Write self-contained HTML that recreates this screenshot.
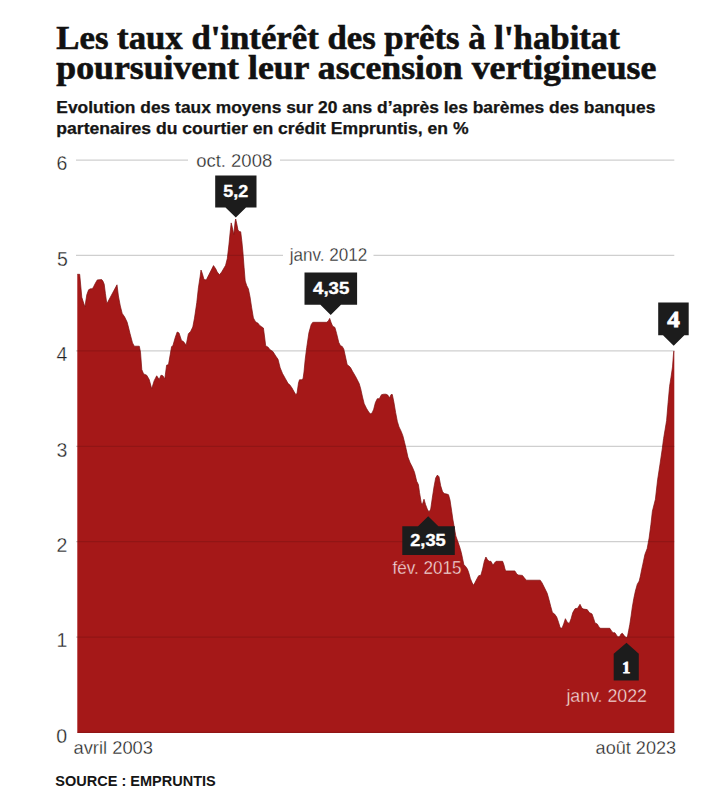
<!DOCTYPE html>
<html><head><meta charset="utf-8">
<style>
html,body{margin:0;padding:0;background:#fff;}
body{width:726px;height:805px;position:relative;overflow:hidden;font-family:"Liberation Sans",sans-serif;}
svg{position:absolute;left:0;top:0;}
.ti{font-family:"Liberation Serif",serif;font-weight:bold;font-size:33px;fill:#111;stroke:#111;stroke-width:0.6px;}
.su{font-weight:bold;font-size:16.2px;fill:#151515;stroke:#151515;stroke-width:0.25px;}
.so{font-weight:bold;font-size:14.6px;fill:#151515;}
.ax{font-size:19.5px;fill:#222;stroke:#fff;stroke-width:0.3px;}
.lb{font-size:18px;fill:#222;stroke:#fff;stroke-width:0.3px;}
.lw{font-size:18px;fill:#fbe6e6;stroke:#a51818;stroke-width:0.4px;}
.bx{font-weight:bold;font-size:17px;fill:#fff;stroke:#fff;stroke-width:0.35px;}
.bs{font-family:"Liberation Serif",serif;font-weight:bold;font-size:21px;fill:#fff;}
</style></head><body>
<svg width="726" height="805" viewBox="0 0 726 805">
<g stroke="#cfcfcf" stroke-width="1.3">
<line x1="76" y1="160.2" x2="188" y2="160.2"/><line x1="280" y1="160.2" x2="674.3" y2="160.2"/>
<line x1="76" y1="255.4" x2="283" y2="255.4"/><line x1="373.5" y1="255.4" x2="674.3" y2="255.4"/>
<line x1="76" y1="350.8" x2="674.3" y2="350.8"/>
<line x1="76" y1="446.4" x2="674.3" y2="446.4"/>
<line x1="76" y1="541.6" x2="674.3" y2="541.6"/>
<line x1="76" y1="637.1" x2="674.3" y2="637.1"/>
</g>
<defs><clipPath id="cp"><path d="M77.3 733.0 L77.3 274.3 L79.7 274.3 L81.8 297.3 L84.9 307.0 L86.8 294.8 L88.6 289.8 L90.5 288.8 L92.4 288.8 L93.6 286.7 L95.5 283.0 L97.3 279.9 L101.7 279.6 L102.9 281.1 L104.2 284.2 L105.4 293.5 L106.6 302.2 L107.3 302.9 L117.0 284.8 L118.4 296.0 L120.3 306.0 L122.2 313.4 L124.7 317.1 L127.1 322.1 L128.4 327.0 L130.0 333.5 L132.5 342.9 L134.3 346.2 L139.3 346.2 L140.5 352.2 L141.8 369.6 L143.6 373.9 L146.7 375.2 L149.2 379.5 L151.7 388.8 L154.2 380.7 L156.7 375.8 L159.2 379.5 L161.0 375.2 L162.9 375.8 L164.8 378.9 L166.6 365.2 L168.5 364.6 L171.6 346.6 L172.8 346.0 L175.3 337.3 L177.2 332.0 L179.0 332.9 L181.5 340.4 L183.4 341.6 L184.5 342.7 L186.1 345.5 L188.4 333.7 L190.6 331.5 L192.8 327.0 L194.5 318.1 L196.8 302.5 L198.4 287.9 L200.1 276.8 L201.0 270.0 L202.3 273.4 L204.0 279.6 L206.3 279.9 L209.0 274.5 L211.3 270.0 L213.5 265.6 L215.8 268.9 L217.2 272.0 L219.5 274.8 L221.7 272.0 L225.6 265.3 L227.3 258.6 L229.0 244.1 L230.1 232.9 L231.2 222.9 L232.3 227.3 L233.8 234.6 L235.1 221.8 L235.7 219.0 L236.8 224.0 L237.9 229.6 L239.0 231.6 L240.7 231.8 L241.8 240.8 L242.9 251.9 L244.1 267.6 L245.2 281.0 L246.7 285.6 L248.4 288.9 L250.0 296.8 L251.7 307.9 L253.4 318.0 L255.6 321.9 L257.8 323.0 L259.5 325.3 L261.8 326.9 L263.4 328.0 L264.6 337.0 L265.7 345.9 L267.9 347.0 L270.1 349.8 L272.9 351.5 L275.7 356.0 L278.0 359.3 L280.2 367.9 L282.5 373.5 L285.3 378.5 L288.1 383.6 L289.7 384.7 L292.0 388.0 L294.8 393.1 L295.9 394.5 L297.0 393.5 L298.5 383.0 L299.5 379.8 L301.4 379.8 L303.0 379.0 L304.0 372.0 L305.2 359.6 L306.7 347.7 L308.9 332.8 L311.2 324.6 L312.7 322.4 L313.8 322.3 L326.5 322.3 L328.2 321.2 L329.7 318.4 L331.0 322.3 L332.7 326.3 L334.9 327.4 L336.6 333.5 L338.8 342.5 L340.5 345.8 L342.2 346.4 L343.8 349.2 L345.5 357.0 L347.2 364.8 L348.9 365.9 L350.5 367.6 L352.5 371.3 L355.8 376.9 L359.2 383.6 L360.8 389.2 L362.5 397.0 L364.2 403.7 L366.4 408.2 L368.7 412.1 L370.3 413.7 L372.0 413.2 L373.7 409.3 L375.4 402.6 L377.3 398.7 L379.3 398.7 L381.5 394.7 L383.8 394.2 L386.0 394.2 L387.8 395.1 L389.5 397.9 L391.1 394.5 L392.3 394.5 L393.9 402.3 L395.6 412.4 L397.3 421.3 L399.0 426.9 L401.2 431.4 L402.9 435.9 L404.6 442.6 L406.2 449.3 L407.9 457.1 L410.1 462.7 L412.4 467.2 L414.5 472.3 L416.7 481.3 L418.4 484.6 L419.5 492.5 L421.2 502.5 L422.3 504.7 L424.0 499.2 L425.6 504.7 L427.3 509.2 L429.0 512.0 L430.7 509.2 L432.3 498.0 L434.0 486.9 L435.7 477.9 L437.4 475.1 L439.0 476.8 L440.7 485.8 L442.4 491.3 L444.1 493.6 L446.9 494.1 L448.5 494.7 L450.0 500.1 L451.7 511.3 L452.8 519.1 L455.8 535.9 L457.8 541.5 L459.7 547.0 L461.3 552.6 L462.5 558.2 L463.8 564.5 L465.7 566.6 L467.4 569.1 L468.7 572.6 L470.4 578.7 L472.2 583.0 L473.5 585.2 L475.2 582.2 L477.0 578.7 L478.7 575.7 L480.9 575.2 L482.6 569.1 L484.3 561.3 L485.9 557.0 L487.4 559.6 L489.1 561.3 L490.9 561.3 L493.0 565.2 L494.8 562.6 L496.1 561.3 L502.6 561.3 L503.9 564.8 L505.2 570.0 L506.5 570.9 L514.8 570.9 L516.5 573.5 L518.0 575.0 L522.4 575.4 L524.1 577.6 L526.3 580.2 L540.2 580.2 L542.0 582.8 L544.6 588.0 L547.2 593.3 L548.9 599.3 L550.7 606.3 L552.4 612.4 L554.6 614.1 L556.7 617.0 L558.5 622.2 L560.2 627.8 L562.0 628.3 L563.7 623.9 L565.4 618.7 L567.2 622.2 L569.3 623.5 L571.1 618.7 L572.8 612.6 L575.0 608.7 L577.6 608.3 L580.0 604.3 L582.0 608.3 L583.7 609.1 L587.2 609.6 L589.3 612.6 L592.0 613.9 L593.7 618.7 L595.0 623.0 L597.2 623.9 L599.3 627.4 L600.7 628.3 L609.8 628.3 L612.0 631.7 L613.1 632.7 L614.9 632.7 L617.4 636.4 L619.3 637.0 L621.1 633.9 L622.4 633.3 L624.3 635.8 L626.1 637.6 L627.4 637.0 L628.6 630.8 L629.8 624.6 L631.1 615.9 L632.3 607.2 L633.8 598.5 L635.4 591.1 L637.3 584.2 L639.2 581.1 L640.4 576.1 L641.6 569.9 L642.7 564.9 L644.9 554.5 L647.2 548.5 L649.1 538.1 L650.9 524.6 L652.4 511.2 L655.4 499.3 L657.6 479.9 L659.9 464.9 L662.1 450.0 L663.6 438.5 L665.1 429.6 L666.6 420.6 L668.1 402.7 L669.6 386.3 L671.0 377.3 L672.5 366.9 L673.7 351.2 L674.3 351.2 L674.3 733.0 Z"/></clipPath></defs>
<path d="M77.3 733.0 L77.3 274.3 L79.7 274.3 L81.8 297.3 L84.9 307.0 L86.8 294.8 L88.6 289.8 L90.5 288.8 L92.4 288.8 L93.6 286.7 L95.5 283.0 L97.3 279.9 L101.7 279.6 L102.9 281.1 L104.2 284.2 L105.4 293.5 L106.6 302.2 L107.3 302.9 L117.0 284.8 L118.4 296.0 L120.3 306.0 L122.2 313.4 L124.7 317.1 L127.1 322.1 L128.4 327.0 L130.0 333.5 L132.5 342.9 L134.3 346.2 L139.3 346.2 L140.5 352.2 L141.8 369.6 L143.6 373.9 L146.7 375.2 L149.2 379.5 L151.7 388.8 L154.2 380.7 L156.7 375.8 L159.2 379.5 L161.0 375.2 L162.9 375.8 L164.8 378.9 L166.6 365.2 L168.5 364.6 L171.6 346.6 L172.8 346.0 L175.3 337.3 L177.2 332.0 L179.0 332.9 L181.5 340.4 L183.4 341.6 L184.5 342.7 L186.1 345.5 L188.4 333.7 L190.6 331.5 L192.8 327.0 L194.5 318.1 L196.8 302.5 L198.4 287.9 L200.1 276.8 L201.0 270.0 L202.3 273.4 L204.0 279.6 L206.3 279.9 L209.0 274.5 L211.3 270.0 L213.5 265.6 L215.8 268.9 L217.2 272.0 L219.5 274.8 L221.7 272.0 L225.6 265.3 L227.3 258.6 L229.0 244.1 L230.1 232.9 L231.2 222.9 L232.3 227.3 L233.8 234.6 L235.1 221.8 L235.7 219.0 L236.8 224.0 L237.9 229.6 L239.0 231.6 L240.7 231.8 L241.8 240.8 L242.9 251.9 L244.1 267.6 L245.2 281.0 L246.7 285.6 L248.4 288.9 L250.0 296.8 L251.7 307.9 L253.4 318.0 L255.6 321.9 L257.8 323.0 L259.5 325.3 L261.8 326.9 L263.4 328.0 L264.6 337.0 L265.7 345.9 L267.9 347.0 L270.1 349.8 L272.9 351.5 L275.7 356.0 L278.0 359.3 L280.2 367.9 L282.5 373.5 L285.3 378.5 L288.1 383.6 L289.7 384.7 L292.0 388.0 L294.8 393.1 L295.9 394.5 L297.0 393.5 L298.5 383.0 L299.5 379.8 L301.4 379.8 L303.0 379.0 L304.0 372.0 L305.2 359.6 L306.7 347.7 L308.9 332.8 L311.2 324.6 L312.7 322.4 L313.8 322.3 L326.5 322.3 L328.2 321.2 L329.7 318.4 L331.0 322.3 L332.7 326.3 L334.9 327.4 L336.6 333.5 L338.8 342.5 L340.5 345.8 L342.2 346.4 L343.8 349.2 L345.5 357.0 L347.2 364.8 L348.9 365.9 L350.5 367.6 L352.5 371.3 L355.8 376.9 L359.2 383.6 L360.8 389.2 L362.5 397.0 L364.2 403.7 L366.4 408.2 L368.7 412.1 L370.3 413.7 L372.0 413.2 L373.7 409.3 L375.4 402.6 L377.3 398.7 L379.3 398.7 L381.5 394.7 L383.8 394.2 L386.0 394.2 L387.8 395.1 L389.5 397.9 L391.1 394.5 L392.3 394.5 L393.9 402.3 L395.6 412.4 L397.3 421.3 L399.0 426.9 L401.2 431.4 L402.9 435.9 L404.6 442.6 L406.2 449.3 L407.9 457.1 L410.1 462.7 L412.4 467.2 L414.5 472.3 L416.7 481.3 L418.4 484.6 L419.5 492.5 L421.2 502.5 L422.3 504.7 L424.0 499.2 L425.6 504.7 L427.3 509.2 L429.0 512.0 L430.7 509.2 L432.3 498.0 L434.0 486.9 L435.7 477.9 L437.4 475.1 L439.0 476.8 L440.7 485.8 L442.4 491.3 L444.1 493.6 L446.9 494.1 L448.5 494.7 L450.0 500.1 L451.7 511.3 L452.8 519.1 L455.8 535.9 L457.8 541.5 L459.7 547.0 L461.3 552.6 L462.5 558.2 L463.8 564.5 L465.7 566.6 L467.4 569.1 L468.7 572.6 L470.4 578.7 L472.2 583.0 L473.5 585.2 L475.2 582.2 L477.0 578.7 L478.7 575.7 L480.9 575.2 L482.6 569.1 L484.3 561.3 L485.9 557.0 L487.4 559.6 L489.1 561.3 L490.9 561.3 L493.0 565.2 L494.8 562.6 L496.1 561.3 L502.6 561.3 L503.9 564.8 L505.2 570.0 L506.5 570.9 L514.8 570.9 L516.5 573.5 L518.0 575.0 L522.4 575.4 L524.1 577.6 L526.3 580.2 L540.2 580.2 L542.0 582.8 L544.6 588.0 L547.2 593.3 L548.9 599.3 L550.7 606.3 L552.4 612.4 L554.6 614.1 L556.7 617.0 L558.5 622.2 L560.2 627.8 L562.0 628.3 L563.7 623.9 L565.4 618.7 L567.2 622.2 L569.3 623.5 L571.1 618.7 L572.8 612.6 L575.0 608.7 L577.6 608.3 L580.0 604.3 L582.0 608.3 L583.7 609.1 L587.2 609.6 L589.3 612.6 L592.0 613.9 L593.7 618.7 L595.0 623.0 L597.2 623.9 L599.3 627.4 L600.7 628.3 L609.8 628.3 L612.0 631.7 L613.1 632.7 L614.9 632.7 L617.4 636.4 L619.3 637.0 L621.1 633.9 L622.4 633.3 L624.3 635.8 L626.1 637.6 L627.4 637.0 L628.6 630.8 L629.8 624.6 L631.1 615.9 L632.3 607.2 L633.8 598.5 L635.4 591.1 L637.3 584.2 L639.2 581.1 L640.4 576.1 L641.6 569.9 L642.7 564.9 L644.9 554.5 L647.2 548.5 L649.1 538.1 L650.9 524.6 L652.4 511.2 L655.4 499.3 L657.6 479.9 L659.9 464.9 L662.1 450.0 L663.6 438.5 L665.1 429.6 L666.6 420.6 L668.1 402.7 L669.6 386.3 L671.0 377.3 L672.5 366.9 L673.7 351.2 L674.3 351.2 L674.3 733.0 Z" fill="#a51818"/>
<path d="M77.3 274.3 L79.7 274.3 L81.8 297.3 L84.9 307.0 L86.8 294.8 L88.6 289.8 L90.5 288.8 L92.4 288.8 L93.6 286.7 L95.5 283.0 L97.3 279.9 L101.7 279.6 L102.9 281.1 L104.2 284.2 L105.4 293.5 L106.6 302.2 L107.3 302.9 L117.0 284.8 L118.4 296.0 L120.3 306.0 L122.2 313.4 L124.7 317.1 L127.1 322.1 L128.4 327.0 L130.0 333.5 L132.5 342.9 L134.3 346.2 L139.3 346.2 L140.5 352.2 L141.8 369.6 L143.6 373.9 L146.7 375.2 L149.2 379.5 L151.7 388.8 L154.2 380.7 L156.7 375.8 L159.2 379.5 L161.0 375.2 L162.9 375.8 L164.8 378.9 L166.6 365.2 L168.5 364.6 L171.6 346.6 L172.8 346.0 L175.3 337.3 L177.2 332.0 L179.0 332.9 L181.5 340.4 L183.4 341.6 L184.5 342.7 L186.1 345.5 L188.4 333.7 L190.6 331.5 L192.8 327.0 L194.5 318.1 L196.8 302.5 L198.4 287.9 L200.1 276.8 L201.0 270.0 L202.3 273.4 L204.0 279.6 L206.3 279.9 L209.0 274.5 L211.3 270.0 L213.5 265.6 L215.8 268.9 L217.2 272.0 L219.5 274.8 L221.7 272.0 L225.6 265.3 L227.3 258.6 L229.0 244.1 L230.1 232.9 L231.2 222.9 L232.3 227.3 L233.8 234.6 L235.1 221.8 L235.7 219.0 L236.8 224.0 L237.9 229.6 L239.0 231.6 L240.7 231.8 L241.8 240.8 L242.9 251.9 L244.1 267.6 L245.2 281.0 L246.7 285.6 L248.4 288.9 L250.0 296.8 L251.7 307.9 L253.4 318.0 L255.6 321.9 L257.8 323.0 L259.5 325.3 L261.8 326.9 L263.4 328.0 L264.6 337.0 L265.7 345.9 L267.9 347.0 L270.1 349.8 L272.9 351.5 L275.7 356.0 L278.0 359.3 L280.2 367.9 L282.5 373.5 L285.3 378.5 L288.1 383.6 L289.7 384.7 L292.0 388.0 L294.8 393.1 L295.9 394.5 L297.0 393.5 L298.5 383.0 L299.5 379.8 L301.4 379.8 L303.0 379.0 L304.0 372.0 L305.2 359.6 L306.7 347.7 L308.9 332.8 L311.2 324.6 L312.7 322.4 L313.8 322.3 L326.5 322.3 L328.2 321.2 L329.7 318.4 L331.0 322.3 L332.7 326.3 L334.9 327.4 L336.6 333.5 L338.8 342.5 L340.5 345.8 L342.2 346.4 L343.8 349.2 L345.5 357.0 L347.2 364.8 L348.9 365.9 L350.5 367.6 L352.5 371.3 L355.8 376.9 L359.2 383.6 L360.8 389.2 L362.5 397.0 L364.2 403.7 L366.4 408.2 L368.7 412.1 L370.3 413.7 L372.0 413.2 L373.7 409.3 L375.4 402.6 L377.3 398.7 L379.3 398.7 L381.5 394.7 L383.8 394.2 L386.0 394.2 L387.8 395.1 L389.5 397.9 L391.1 394.5 L392.3 394.5 L393.9 402.3 L395.6 412.4 L397.3 421.3 L399.0 426.9 L401.2 431.4 L402.9 435.9 L404.6 442.6 L406.2 449.3 L407.9 457.1 L410.1 462.7 L412.4 467.2 L414.5 472.3 L416.7 481.3 L418.4 484.6 L419.5 492.5 L421.2 502.5 L422.3 504.7 L424.0 499.2 L425.6 504.7 L427.3 509.2 L429.0 512.0 L430.7 509.2 L432.3 498.0 L434.0 486.9 L435.7 477.9 L437.4 475.1 L439.0 476.8 L440.7 485.8 L442.4 491.3 L444.1 493.6 L446.9 494.1 L448.5 494.7 L450.0 500.1 L451.7 511.3 L452.8 519.1 L455.8 535.9 L457.8 541.5 L459.7 547.0 L461.3 552.6 L462.5 558.2 L463.8 564.5 L465.7 566.6 L467.4 569.1 L468.7 572.6 L470.4 578.7 L472.2 583.0 L473.5 585.2 L475.2 582.2 L477.0 578.7 L478.7 575.7 L480.9 575.2 L482.6 569.1 L484.3 561.3 L485.9 557.0 L487.4 559.6 L489.1 561.3 L490.9 561.3 L493.0 565.2 L494.8 562.6 L496.1 561.3 L502.6 561.3 L503.9 564.8 L505.2 570.0 L506.5 570.9 L514.8 570.9 L516.5 573.5 L518.0 575.0 L522.4 575.4 L524.1 577.6 L526.3 580.2 L540.2 580.2 L542.0 582.8 L544.6 588.0 L547.2 593.3 L548.9 599.3 L550.7 606.3 L552.4 612.4 L554.6 614.1 L556.7 617.0 L558.5 622.2 L560.2 627.8 L562.0 628.3 L563.7 623.9 L565.4 618.7 L567.2 622.2 L569.3 623.5 L571.1 618.7 L572.8 612.6 L575.0 608.7 L577.6 608.3 L580.0 604.3 L582.0 608.3 L583.7 609.1 L587.2 609.6 L589.3 612.6 L592.0 613.9 L593.7 618.7 L595.0 623.0 L597.2 623.9 L599.3 627.4 L600.7 628.3 L609.8 628.3 L612.0 631.7 L613.1 632.7 L614.9 632.7 L617.4 636.4 L619.3 637.0 L621.1 633.9 L622.4 633.3 L624.3 635.8 L626.1 637.6 L627.4 637.0 L628.6 630.8 L629.8 624.6 L631.1 615.9 L632.3 607.2 L633.8 598.5 L635.4 591.1 L637.3 584.2 L639.2 581.1 L640.4 576.1 L641.6 569.9 L642.7 564.9 L644.9 554.5 L647.2 548.5 L649.1 538.1 L650.9 524.6 L652.4 511.2 L655.4 499.3 L657.6 479.9 L659.9 464.9 L662.1 450.0 L663.6 438.5 L665.1 429.6 L666.6 420.6 L668.1 402.7 L669.6 386.3 L671.0 377.3 L672.5 366.9 L673.7 351.2 L674.3 351.2" fill="none" stroke="#7e0e0e" stroke-width="0.7" stroke-linejoin="round"/>
<g stroke="#000" stroke-opacity="0.12" stroke-width="1.3" clip-path="url(#cp)">
<line x1="76" y1="255.4" x2="674.3" y2="255.4"/>
<line x1="76" y1="350.8" x2="674.3" y2="350.8"/>
<line x1="76" y1="446.4" x2="674.3" y2="446.4"/>
<line x1="76" y1="541.6" x2="674.3" y2="541.6"/>
<line x1="76" y1="637.1" x2="674.3" y2="637.1"/>
<line x1="76" y1="732.3" x2="674.3" y2="732.3"/>
</g>
<g class="ax">
<text x="56.5" y="170">6</text>
<text x="57" y="265.5">5</text>
<text x="56.5" y="361">4</text>
<text x="56.5" y="456.5">3</text>
<text x="56.5" y="552">2</text>
<text x="56.5" y="647.3">1</text>
<text x="56.3" y="742.6">0</text>
</g>
<text class="lb" x="196.2" y="167" textLength="76" lengthAdjust="spacingAndGlyphs">oct. 2008</text>
<text class="lb" x="289.8" y="261.3" textLength="77.5" lengthAdjust="spacingAndGlyphs">janv. 2012</text>
<text class="lw" x="392.6" y="573.5" textLength="69" lengthAdjust="spacingAndGlyphs">fév. 2015</text>
<text class="lw" x="566.4" y="701.9" textLength="80.5" lengthAdjust="spacingAndGlyphs">janv. 2022</text>
<text class="lb" x="73.5" y="754.3" textLength="79.5" lengthAdjust="spacingAndGlyphs">avril 2003</text>
<text class="lb" x="595.6" y="754.2" textLength="80.5" lengthAdjust="spacingAndGlyphs">août 2023</text>
<g fill="#1c1c1c">
<path d="M215.2 175.6H256.5V207.4H246L235.8 217.4L225.5 207.4H215.2Z"/>
<path d="M304.5 272.4H357.1V304.7H341L330.7 315L320.4 304.7H304.5Z"/>
<path d="M402.3 526.2H418L428.2 516.3L438.4 526.2H454.8V555.1H402.3Z"/>
<path d="M613.7 653.7L626.5 642.7L638.8 653.7V680.6H613.7Z"/>
<path d="M658.2 302.5H688.7V335.2H684.3L673.7 345.7L663 335.2H658.2Z"/>
</g>
<text class="bx" x="223.3" y="197.3" textLength="24.9" lengthAdjust="spacingAndGlyphs">5,2</text>
<text class="bx" x="313.1" y="293.5" textLength="36.2" lengthAdjust="spacingAndGlyphs">4,35</text>
<text class="bx" x="410.2" y="545.6" textLength="35.5" lengthAdjust="spacingAndGlyphs">2,35</text>
<text class="bs" x="626.2" y="673" text-anchor="middle" style="font-size:16px;stroke:#fff;stroke-width:0.8px">1</text>
<text class="bs" x="667.2" y="327" textLength="12.6" lengthAdjust="spacingAndGlyphs" style="font-size:23.5px;stroke:#fff;stroke-width:0.8px">4</text>
<g class="ti">
<text x="56.3" y="49" textLength="563.5" lengthAdjust="spacingAndGlyphs">Les taux d'intérêt des prêts à l'habitat</text>
<text x="56.3" y="78.6" textLength="600" lengthAdjust="spacingAndGlyphs">poursuivent leur ascension vertigineuse</text>
</g>
<g class="su">
<text x="56.3" y="113.2" textLength="599" lengthAdjust="spacingAndGlyphs">Evolution des taux moyens sur 20 ans d’après les barèmes des banques</text>
<text x="56.3" y="134.1" textLength="412.3" lengthAdjust="spacingAndGlyphs">partenaires du courtier en crédit Empruntis, en %</text>
</g>
<text class="so" x="55.3" y="785.5" textLength="160.5" lengthAdjust="spacingAndGlyphs">SOURCE : EMPRUNTIS</text>
</svg>
</body></html>
